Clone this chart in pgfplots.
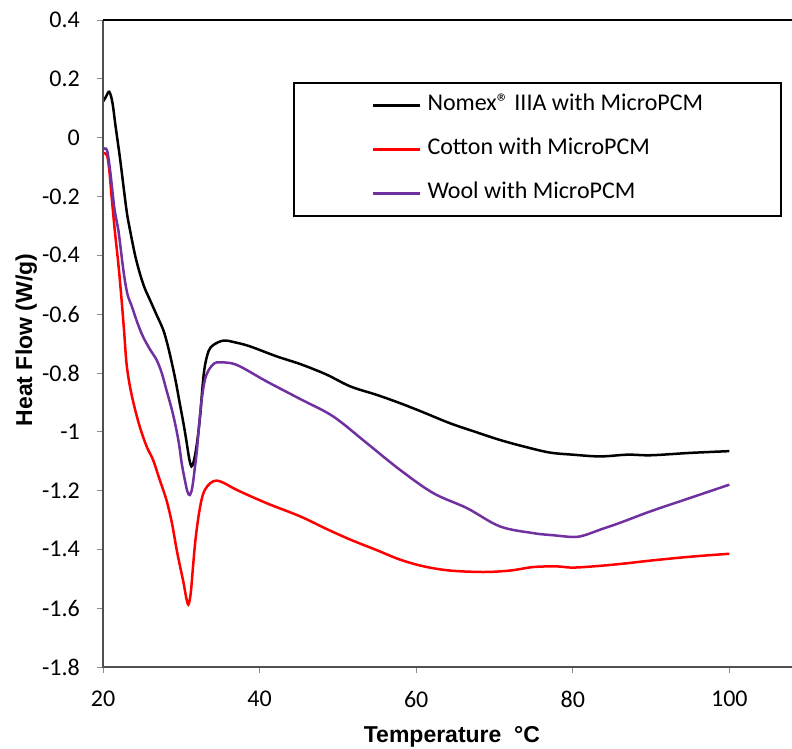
\documentclass[border=0pt]{standalone}
\usepackage{pgfplots}
\pgfplotsset{compat=1.18}
\usepackage{fontspec}
\setmainfont{Carlito}
\newfontfamily\arialfont{Liberation Sans}
\definecolor{woolc}{RGB}{112,48,160}
\definecolor{axgray}{RGB}{80,80,80}
\begin{document}
\begin{tikzpicture}
\begin{axis}[
  at={(0pt,0pt)}, anchor=south west,
  scale only axis, width=689pt, height=647pt,
  xmin=20, xmax=108, ymin=-1.8, ymax=0.4,
  xtick={20,40,60,80,100},
  xticklabels={20,40,60,80,100},
  ytick={-1.8,-1.6,-1.4,-1.2,-1,-0.8,-0.6,-0.4,-0.2,0,0.2,0.4},
  yticklabels={-1.8,-1.6,-1.4,-1.2,-1,-0.8,-0.6,-0.4,-0.2,0,0.2,0.4},
  tick pos=left, tick align=outside, major tick length=6pt,
  tick style={black!45, line width=0.8pt},
  axis line style={draw=none},
  ticklabel style={font=\fontsize{24}{28}\selectfont, inner sep=0pt},
  yticklabel style={anchor=east, xshift=-17pt},
  xticklabel style={anchor=north, yshift=-18pt},
  xlabel={Temperature~~°C},
  ylabel={Heat Flow (W/g)},
  xlabel style={font=\arialfont\bfseries\fontsize{23}{27}\selectfont, at={(axis description cs:0.5065,-0.117)}, anchor=base},
  ylabel style={font=\arialfont\bfseries\fontsize{23}{27}\selectfont, at={(axis description cs:-0.103,0.5054)}, anchor=base, rotate=0},
  legend style={at={(axis description cs:0.2758,0.9042)}, anchor=north west,
    draw=black, line width=2pt, inner xsep=78pt, inner ysep=12pt,
    row sep=23pt, column sep=6pt,
    nodes={inner sep=0pt, text height=16pt, text depth=5pt, anchor=west, font=\fontsize{24}{28}\selectfont}},
  legend cell align=left,
  legend image code/.code={\draw[#1, line width=2.5pt] (0pt,0pt) -- (47pt,0pt);},
  every axis plot/.append style={line width=2.5pt, smooth, tension=0.55},
  clip=false,
]
\addplot[black] coordinates {
(20,0.122) (20.4,0.14) (20.8,0.156) (21.2,0.12) (21.6,0.04) (22.2,-0.076) (23.0,-0.246)
(23.45,-0.314) (24.1,-0.4) (24.7,-0.461) (25.3,-0.51) (26.0,-0.552) (26.8,-0.6) (27.7,-0.654)
(28.3,-0.71) (28.8,-0.767) (29.3,-0.83) (29.8,-0.903) (30.3,-0.975) (30.7,-1.039) (31.0,-1.09)
(31.3,-1.118) (31.6,-1.1) (32.0,-1.04) (32.4,-0.948) (32.7,-0.85) (33.0,-0.778) (33.5,-0.725)
(34.1,-0.705) (35.4,-0.69) (37.0,-0.697) (38.8,-0.71) (42.2,-0.744) (45.2,-0.77)
(48.5,-0.805) (51.6,-0.846) (55,-0.875) (57.95,-0.903) (61,-0.935) (64.3,-0.971) (67.5,-1.0)
(70.7,-1.028) (74,-1.052) (77.1,-1.071) (80,-1.078) (83.5,-1.084) (87,-1.078) (90,-1.08)
(95,-1.072) (100,-1.066)
};
\addlegendentry{Nomex® IIIA with MicroPCM}
\addplot[red] coordinates {
(20,-0.053) (20.5,-0.059) (20.8,-0.11) (21.1,-0.2) (21.5,-0.314) (22.0,-0.44) (22.4,-0.56)
(22.7,-0.66) (23.0,-0.767) (23.4,-0.84) (23.9,-0.903) (24.5,-0.965) (25.1,-1.016) (25.7,-1.058)
(26.4,-1.096) (27.2,-1.16) (28.1,-1.232) (28.8,-1.31) (29.4,-1.40) (29.9,-1.465) (30.3,-1.515)
(30.6,-1.56) (30.9,-1.588) (31.2,-1.55) (31.5,-1.458) (31.8,-1.37) (32.2,-1.288) (32.6,-1.23)
(33.0,-1.198) (33.7,-1.175) (34.5,-1.166) (35.5,-1.175) (37.1,-1.198) (40.9,-1.243) (45.2,-1.288)
(48.5,-1.33) (51.6,-1.367) (55,-1.403) (57.95,-1.435) (61,-1.458) (64.3,-1.472) (68.6,-1.477)
(72,-1.472) (75.0,-1.460) (78,-1.458) (80,-1.462) (83.5,-1.456) (87,-1.447) (90,-1.438)
(95,-1.425) (100,-1.415)
};
\addlegendentry{Cotton with MicroPCM}
\addplot[woolc] coordinates {
(20,-0.04) (20.5,-0.042) (20.9,-0.11) (21.5,-0.25) (21.96,-0.314) (22.6,-0.45) (23.1,-0.53)
(23.7,-0.575) (24.4,-0.63) (25.1,-0.676) (26.0,-0.72) (26.85,-0.756) (27.5,-0.8) (28.1,-0.858)
(28.7,-0.915) (29.2,-0.971) (29.7,-1.04) (30.05,-1.107) (30.5,-1.17) (30.8,-1.205) (31.1,-1.215)
(31.4,-1.19) (31.7,-1.13) (32.0,-1.062) (32.3,-0.97) (32.6,-0.892) (33.0,-0.825) (33.5,-0.79)
(34.2,-0.768) (35.0,-0.764) (37.1,-0.773) (40.9,-0.829) (45.2,-0.889) (49.4,-0.948)
(53.7,-1.039) (57.95,-1.13) (62.2,-1.209) (66.5,-1.26) (70.7,-1.322) (75.0,-1.345)
(77.5,-1.352) (80.1,-1.358) (81.5,-1.352) (83.5,-1.333) (86,-1.31) (90,-1.27) (95,-1.225)
(100,-1.18)
};
\addlegendentry{Wool with MicroPCM}
\draw[axgray, line width=2.2pt] (rel axis cs:1,0) -- (rel axis cs:0,0) -- (rel axis cs:0,1);
\draw[black, line width=2.5pt] (rel axis cs:0,1) -- (rel axis cs:1,1);
\end{axis}
\pgfresetboundingbox
\path[use as bounding box] (-103pt,-82pt) rectangle (689pt,667pt);
\end{tikzpicture}
\end{document}
